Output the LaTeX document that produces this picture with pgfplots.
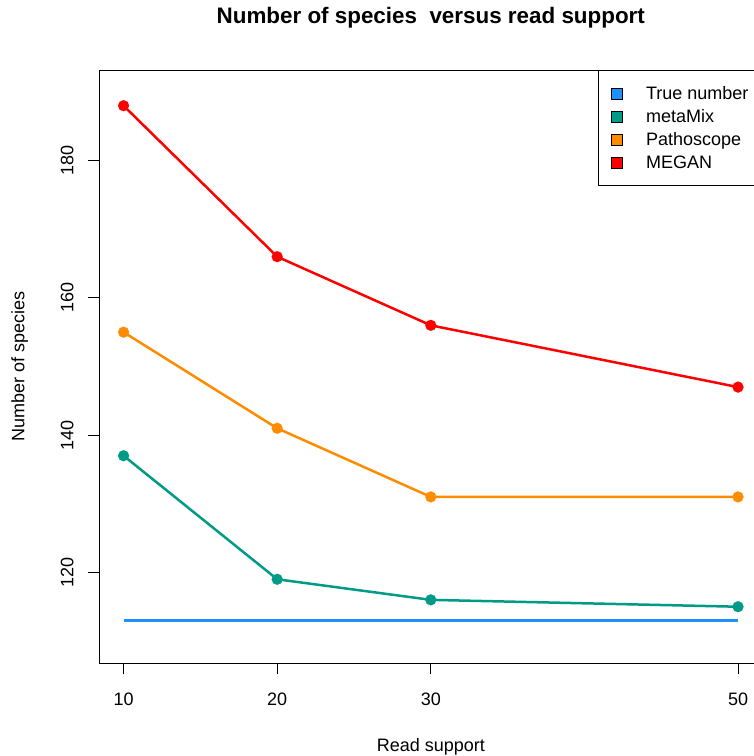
\documentclass[border=0pt]{standalone}
\usepackage{pgfplots}
\pgfplotsset{compat=1.18}
\usepackage{fontspec}
\setmainfont{Liberation Sans}
\definecolor{cTrue}{RGB}{30,144,255}
\definecolor{cMeta}{RGB}{0,155,135}
\definecolor{cPatho}{RGB}{255,140,0}
\definecolor{cMegan}{RGB}{255,0,0}
\begin{document}
\begin{tikzpicture}
\useasboundingbox (0,0) rectangle (754pt,-756pt);
\clip (0,0) rectangle (754pt,-756pt);
\begin{axis}[
  at={(99pt,-663pt)}, anchor=south west,
  width=663.6pt, height=593pt, scale only axis,
  xmin=8.4, xmax=51.6, ymin=106.8, ymax=193.2,
  xtick={10,20,30,50}, ytick={120,140,160,180},
  xtick pos=bottom, ytick pos=left,
  tick align=outside, major tick length=11pt,
  tick style={black, line width=0.8pt},
  axis line style={line width=0.8pt},
  /pgf/number format/assume math mode=true,
  ticklabel style={font=\fontsize{18}{20}\selectfont},
  xticklabel shift=15pt,
  yticklabel shift=11pt,
  yticklabel style={rotate=90, anchor=south},
  title={\bfseries Number of species\ \ versus read support},
  title style={font=\fontsize{22.4}{24}\selectfont, at={(0.5,1.06796)}, anchor=base},
  xlabel={Read support},
  xlabel style={font=\fontsize{18}{20}\selectfont, at={(0.5,-0.14924)}, anchor=base},
  ylabel={Number of species},
  ylabel style={font=\fontsize{18}{20}\selectfont, at={(-0.11227,0.5)}, rotate=0, anchor=base},
  legend cell align=left,
  legend style={at={(0.752,1)}, anchor=north west, draw=black, line width=0.8pt, fill=white,
    font=\fontsize{18}{20}\selectfont, inner xsep=13pt, inner ysep=13.5pt,
    row sep=4pt, column sep=19pt,
    nodes={inner xsep=4pt, inner ysep=0pt, text height=16pt, text depth=3pt}},
]
\addlegendimage{legend image code/.code={\draw[fill=cTrue, draw=black, line width=0.6pt] (0pt,-5.5pt) rectangle (11pt,5.5pt);}}
\addlegendentry{True number}
\addlegendimage{legend image code/.code={\draw[fill=cMeta, draw=black, line width=0.6pt] (0pt,-5.5pt) rectangle (11pt,5.5pt);}}
\addlegendentry{metaMix}
\addlegendimage{legend image code/.code={\draw[fill=cPatho, draw=black, line width=0.6pt] (0pt,-5.5pt) rectangle (11pt,5.5pt);}}
\addlegendentry{Pathoscope}
\addlegendimage{legend image code/.code={\draw[fill=cMegan, draw=black, line width=0.6pt] (0pt,-5.5pt) rectangle (11pt,5.5pt);}}
\addlegendentry{MEGAN}
\addplot[forget plot, cTrue, line width=2.5pt] coordinates {(10,113) (20,113) (30,113) (50,113)};
\addplot[forget plot, cMeta, line width=2.5pt, mark=*, mark size=5.5pt, mark options={fill=cMeta, draw=cMeta, line width=0.1pt, solid}] coordinates {(10,137) (20,119) (30,116) (50,115)};
\addplot[forget plot, cPatho, line width=2.5pt, mark=*, mark size=5.5pt, mark options={fill=cPatho, draw=cPatho, line width=0.1pt, solid}] coordinates {(10,155) (20,141) (30,131) (50,131)};
\addplot[forget plot, cMegan, line width=2.5pt, mark=*, mark size=5.5pt, mark options={fill=cMegan, draw=cMegan, line width=0.1pt, solid}] coordinates {(10,188) (20,166) (30,156) (50,147)};
\end{axis}
\end{tikzpicture}
\end{document}
